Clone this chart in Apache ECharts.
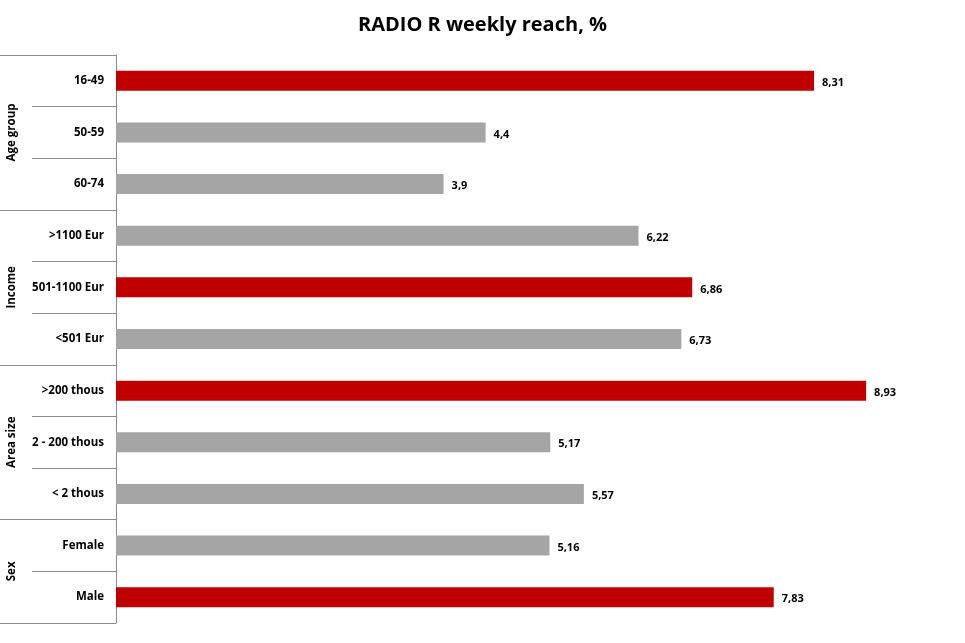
<!DOCTYPE html>
<html>
<head>
<meta charset="utf-8">
<script src="https://cdn.jsdelivr.net/npm/echarts@6/dist/echarts.min.js"></script>
<style>
html,body{margin:0;padding:0;background:#fff;}
#chart{width:965px;height:643px;}
</style>
</head>
<body>
<div id="chart"></div>
<script>
// data
var categories = ['16-49', '50-59', '60-74', '>1100 Eur', '501-1100 Eur', '<501 Eur',
	'>200 thous', '2 - 200 thous', '< 2 thous', 'Female', 'Male'];
var values = [8.31, 4.4, 3.9, 6.22, 6.86, 6.73, 8.93, 5.17, 5.57, 5.16, 7.83];
var groupNames = ['Age group', 'Income', 'Area size', 'Sex'];
var groupSizes = [3, 3, 3, 2];

var RED = '#C00000', GREY = '#A5A5A5', LINE = '#8C8C8C';
var FONT = '"Open Sans", "DejaVu Sans", sans-serif';

//group boundaries and centres (in category units)
var bounds = [0], centres = [];
groupSizes.forEach(function (n, i) {
	var start = bounds[i];
	bounds.push(start + n);
	centres.push(start + n / 2);
});

//highest value in each group is shown in red
var barData = values.map(function (v, i) {
	var g = 0;
	while (i >= bounds[g + 1]) g++;
	var max = Math.max.apply(null, values.slice(bounds[g], bounds[g + 1]));
	return {value: v, itemStyle: {color: v === max ? RED : GREY}};
});

var chart = echarts.init(document.getElementById('chart'));
chart.setOption({
	animation: false,
	title: {
		text: 'RADIO R weekly reach, %',
		left: 'center',
		top: 10,
		textStyle: {fontFamily: FONT, fontWeight: 'bold', fontSize: 20, color: '#000'}
	},
	grid: {left: 116, right: 9, top: 55, bottom: 20, containLabel: false},
	xAxis: {type: 'value', min: 0, max: 10, show: false},
	yAxis: [{
		type: 'category',
		data: categories,
		inverse: true,
		axisLine: {show: true, lineStyle: {color: LINE, width: 1}},
		axisTick: {show: true, length: 84, lineStyle: {color: LINE, width: 1}},
		axisLabel: {margin: 12, fontFamily: FONT, fontWeight: 'bold', fontSize: 11.5, color: '#000'},
		splitLine: {show: false}
	}, {
		type: 'value',
		position: 'left',
		min: 0,
		max: categories.length,
		inverse: true,
		axisLine: {show: false},
		axisTick: {show: true, length: 116, customValues: bounds, lineStyle: {color: LINE, width: 1}},
		axisLabel: {
			customValues: centres,
			rotate: 90,
			margin: 98,
			align: 'center',
			verticalAlign: 'bottom',
			fontFamily: FONT, fontWeight: 'bold', fontSize: 11.5, color: '#000',
			formatter: function (v) {
				return groupNames[centres.indexOf(v)] || '';
			}
		},
		splitLine: {show: false}
	}],
	series: [{
		type: 'bar',
		yAxisIndex: 0,
		data: barData,
		barWidth: 20,
		label: {
			show: true,
			position: 'right',
			distance: 8,
			offset: [0, 2],
			fontFamily: FONT, fontWeight: 'bold', fontSize: 11, color: '#000',
			formatter: function (p) { return String(p.value).replace('.', ','); }
		}
	}]
});
</script>
</body>
</html>
